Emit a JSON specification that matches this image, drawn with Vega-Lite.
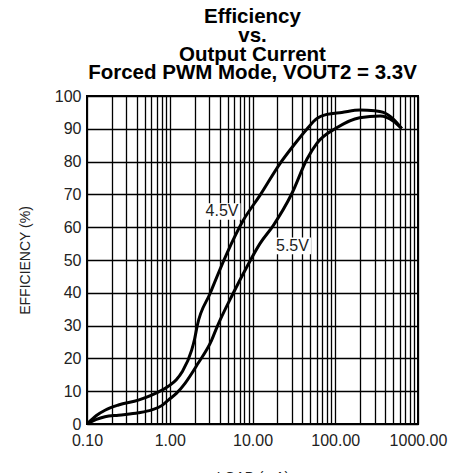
{
  "$schema": "https://vega.github.io/schema/vega-lite/v6.json",
  "width": 331,
  "height": 328,
  "autosize": {"type": "none"},
  "padding": {"left": 87, "top": 96, "right": 34, "bottom": 49},
  "background": "white",
  "title": {
    "text": ["Efficiency", "vs.", "Output Current", "Forced PWM Mode, VOUT2 = 3.3V"],
    "font": "Liberation Sans",
    "fontSize": 20.5,
    "fontWeight": "bold",
    "lineHeight": 18.7,
    "color": "black",
    "anchor": "middle",
    "frame": "group",
    "offset": 4
  },
  "config": {
    "view": {"stroke": "black", "strokeWidth": 2},
    "axis": {
      "labelFont": "Liberation Sans",
      "titleFont": "Liberation Sans",
      "labelFontSize": 16,
      "labelColor": "#222",
      "titleColor": "#222",
      "titleFontWeight": "normal",
      "titleFontSize": 14,
      "domain": false,
      "ticks": false,
      "grid": true,
      "gridColor": "black",
      "gridOpacity": 1,
      "gridWidth": 1.3
    }
  },
  "datasets": {
    "curves": [
      {"series": "4.5V", "load": 0.1, "eff": 0},
      {"series": "4.5V", "load": 0.13, "eff": 2.6},
      {"series": "4.5V", "load": 0.165, "eff": 4.2},
      {"series": "4.5V", "load": 0.24, "eff": 5.8},
      {"series": "4.5V", "load": 0.417, "eff": 7.3},
      {"series": "4.5V", "load": 0.605, "eff": 8.8},
      {"series": "4.5V", "load": 0.96, "eff": 11.5},
      {"series": "4.5V", "load": 1.2, "eff": 13.5},
      {"series": "4.5V", "load": 1.42, "eff": 16},
      {"series": "4.5V", "load": 1.84, "eff": 22.5},
      {"series": "4.5V", "load": 2.0, "eff": 26},
      {"series": "4.5V", "load": 2.15, "eff": 30},
      {"series": "4.5V", "load": 3.06, "eff": 39.7},
      {"series": "4.5V", "load": 4.88, "eff": 51.9},
      {"series": "4.5V", "load": 7.74, "eff": 62.1},
      {"series": "4.5V", "load": 12.3, "eff": 69.7},
      {"series": "4.5V", "load": 21.5, "eff": 79.4},
      {"series": "4.5V", "load": 32, "eff": 85.2},
      {"series": "4.5V", "load": 45, "eff": 89.8},
      {"series": "4.5V", "load": 59.7, "eff": 93.1},
      {"series": "4.5V", "load": 79, "eff": 94.4},
      {"series": "4.5V", "load": 120, "eff": 95},
      {"series": "4.5V", "load": 199, "eff": 95.7},
      {"series": "4.5V", "load": 300, "eff": 95.5},
      {"series": "4.5V", "load": 382, "eff": 95},
      {"series": "4.5V", "load": 506, "eff": 92.9},
      {"series": "4.5V", "load": 635, "eff": 90.1},
      {"series": "5.5V", "load": 0.1, "eff": 0},
      {"series": "5.5V", "load": 0.13, "eff": 1.4},
      {"series": "5.5V", "load": 0.165, "eff": 2.2},
      {"series": "5.5V", "load": 0.24, "eff": 2.7},
      {"series": "5.5V", "load": 0.417, "eff": 3.4},
      {"series": "5.5V", "load": 0.605, "eff": 4.3},
      {"series": "5.5V", "load": 0.8, "eff": 5.6},
      {"series": "5.5V", "load": 0.96, "eff": 7.3},
      {"series": "5.5V", "load": 1.21, "eff": 9.4},
      {"series": "5.5V", "load": 1.53, "eff": 12.4},
      {"series": "5.5V", "load": 2.2, "eff": 18.5},
      {"series": "5.5V", "load": 3.2, "eff": 25.5},
      {"series": "5.5V", "load": 3.7, "eff": 29.4},
      {"series": "5.5V", "load": 5.8, "eff": 39.7},
      {"series": "5.5V", "load": 8.5, "eff": 47.8},
      {"series": "5.5V", "load": 12.3, "eff": 55},
      {"series": "5.5V", "load": 17.8, "eff": 60.5},
      {"series": "5.5V", "load": 29.8, "eff": 70.2},
      {"series": "5.5V", "load": 45.6, "eff": 80.8},
      {"series": "5.5V", "load": 59.6, "eff": 85.5},
      {"series": "5.5V", "load": 104, "eff": 90.3},
      {"series": "5.5V", "load": 197, "eff": 93.4},
      {"series": "5.5V", "load": 350, "eff": 93.9},
      {"series": "5.5V", "load": 506, "eff": 92.3},
      {"series": "5.5V", "load": 635, "eff": 90.1}
    ],
    "labels": [
      {"label": "4.5V", "load": 4.28, "eff": 64.8},
      {"label": "5.5V", "load": 30.4, "eff": 54.3}
    ]
  },
  "encoding": {
    "x": {
      "field": "load", "type": "quantitative",
      "scale": {"type": "log", "domain": [0.1, 1000], "nice": false},
      "axis": {
        "title": "LOAD (mA)",
        "values": [0.1,0.2,0.3,0.4,0.5,0.6,0.7,0.8,0.9,1,2,3,4,5,6,7,8,9,10,20,30,40,50,60,70,80,90,100,200,300,400,500,600,700,800,900,1000],
        "labelExpr": "indexof([0.1,1,10,100,1000], datum.value) >= 0 ? format(datum.value, '.2f') : ''",
        "labelPadding": 8,
        "labelOverlap": false,
        "labelFlush": false,
        "titlePadding": 22
      }
    },
    "y": {
      "field": "eff", "type": "quantitative",
      "scale": {"domain": [0, 100], "nice": false},
      "axis": {
        "title": "EFFICIENCY (%)",
        "values": [0,10,20,30,40,50,60,70,80,90,100],
        "labelOverlap": false,
        "labelPadding": 6,
        "titlePadding": 22
      }
    }
  },
  "layer": [
    {
      "data": {"name": "curves"},
      "mark": {"type": "line", "color": "black", "strokeWidth": 3, "interpolate": "monotone"},
      "encoding": {
        "detail": {"field": "series"}
      }
    },
    {
      "data": {"name": "labels"},
      "mark": {"type": "point", "shape": "M-1,-0.45H1V0.45H-1Z", "filled": true, "color": "white", "opacity": 1, "size": 1369}
    },
    {
      "data": {"name": "labels"},
      "mark": {"type": "text", "font": "Liberation Sans", "fontSize": 16, "color": "#222", "baseline": "middle", "align": "center"},
      "encoding": {
        "text": {"field": "label"}
      }
    }
  ]
}
